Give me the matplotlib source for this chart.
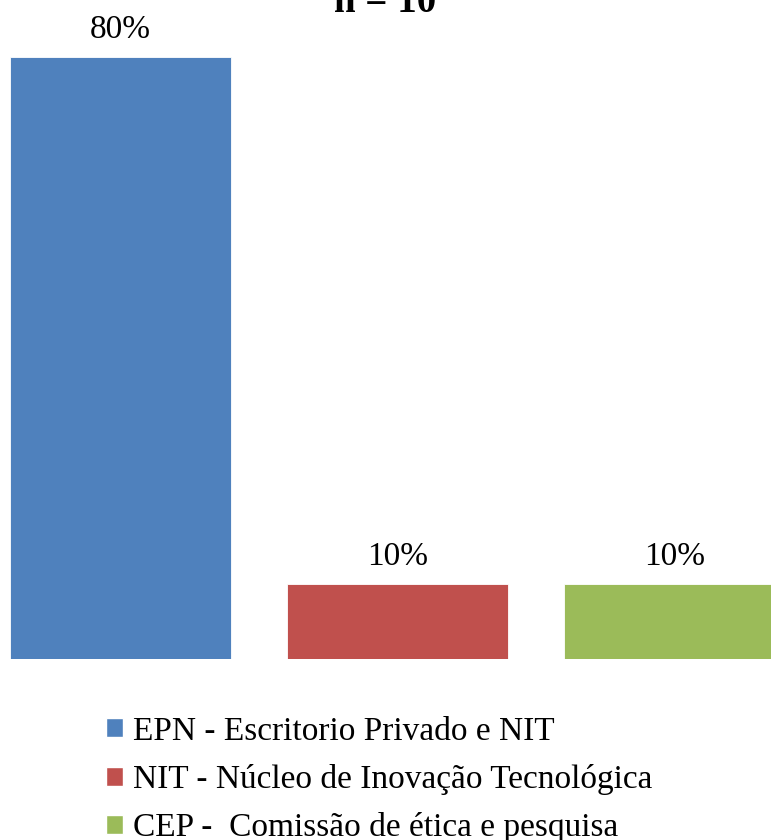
import numpy as np
import matplotlib.pyplot as plt
from matplotlib.patches import Patch

plt.rcParams['font.family'] = ['Liberation Serif', 'DejaVu Serif']

# data
categories = ['EPN - Escritorio Privado e NIT',
              'NIT - Núcleo de Inovação Tecnológica',
              'CEP -  Comissão de ética e pesquisa']
values = [80, 10, 10]
colors = ['#4F81BD', '#C0504D', '#9BBB59']
title = 'n = 10'

W, H = 771, 840
fig = plt.figure(figsize=(W / 100, H / 100), dpi=100)

# axes placed in pixels: baseline at y=659, 80% at y=57
px_per_unit = (659 - 57) / 80.0
ymax = 85
top_px = 659 - ymax * px_per_unit
ax = fig.add_axes([0, (H - 659) / H, 1, (659 - top_px) / H])

x = np.arange(len(categories))
bars = ax.bar(x, values, width=0.8, color=colors, edgecolor='white', linewidth=0.6)
ax.set_ylim(0, ymax)
ax.set_xlim((0 - 120.5) / 277, (W - 120.5) / 277)
ax.axis('off')

for b, v in zip(bars, values):
    ax.annotate('{}%'.format(v), (b.get_x() + b.get_width() / 2, v),
                xytext=(0, 13.7), textcoords='offset points',
                ha='center', va='baseline', fontsize=24)

# title sits partly above the top edge, as in the original
fig.text(0.5, 1 - 12 / H, title, ha='center', va='baseline',
         fontsize=28, fontweight='bold')

handles = [Patch(facecolor=c, edgecolor='white') for c in colors]
fig.legend(handles, categories, loc='upper left',
           bbox_to_anchor=(106 / W, 1 - 716 / H), frameon=False,
           fontsize=24, handlelength=0.5, handleheight=0.5,
           handletextpad=0.3, labelspacing=0.52, borderpad=0,
           borderaxespad=0)

fig.savefig('out.png', dpi=100)
